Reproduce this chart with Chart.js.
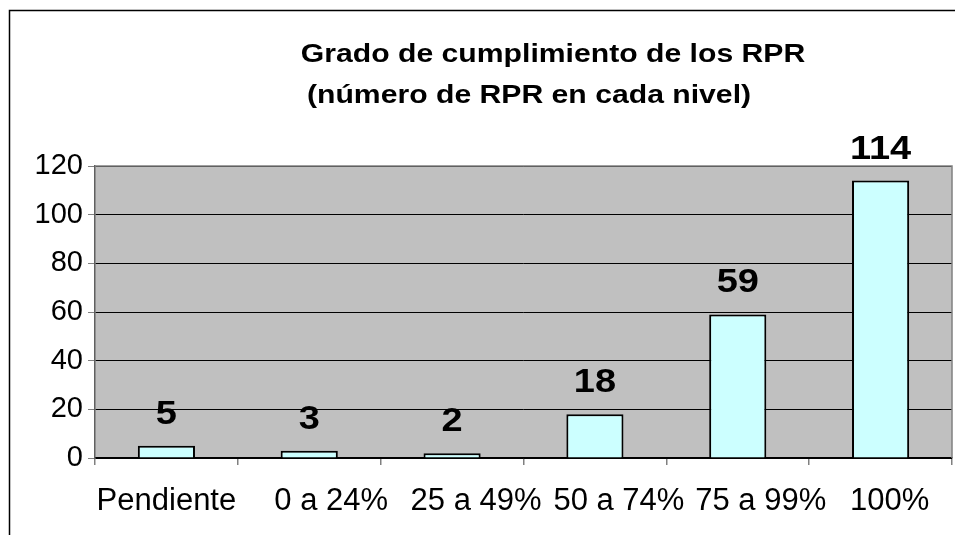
<!DOCTYPE html>
<html>
<head>
<meta charset="utf-8">
<script src="https://cdn.jsdelivr.net/npm/chart.js@4.4.1/dist/chart.umd.min.js"></script>
<style>
  html, body { margin: 0; padding: 0; background: #fff; }
  #wrap { width: 955px; height: 535px; position: relative; }
</style>
</head>
<body>
<div id="wrap"><canvas id="rprChart" width="955" height="535"></canvas></div>
<script>
// Chart data
const categories = ["Pendiente", "0 a 24%", "25 a 49%", "50 a 74%", "75 a 99%", "100%"];
const rprCounts = [5, 3, 2, 18, 59, 114];
const yTicks = [0, 20, 40, 60, 80, 100, 120];
const titleLines = ["Grado de cumplimiento de los RPR", "(número de RPR en cada nivel)"];

const FONT = "'Liberation Sans', Arial, sans-serif";

// the original spreads its category labels slightly to the right of the centre
const labelNudge = [0, 22, 24, 24, 23, 9];

// draw bold text a little wider, like the original rendering
function wideText(ctx, text, x, y, stretch) {
    ctx.save();
    ctx.translate(x, y);
    ctx.scale(stretch, 1);
    ctx.fillText(text, 0, 0);
    ctx.restore();
}

// Frame, gray plot background and plot border
const framePlugin = {
    id: "frame",
    beforeDraw(chart) {
        const { ctx, chartArea: a } = chart;
        ctx.save();
        ctx.fillStyle = "#ffffff";
        ctx.fillRect(0, 0, chart.width, chart.height);
        ctx.strokeStyle = "#000000";
        ctx.lineWidth = 1.5;
        ctx.beginPath();
        ctx.moveTo(9.5, chart.height);
        ctx.lineTo(9.5, 10.5);
        ctx.lineTo(chart.width, 10.5);
        ctx.stroke();
        ctx.fillStyle = "#c0c0c0";
        ctx.fillRect(a.left, a.top, a.right - a.left, a.bottom - a.top);
        ctx.restore();
    },
    afterDatasetsDraw(chart) {
        const { ctx, chartArea: a } = chart;
        ctx.save();
        ctx.strokeStyle = "#808080";
        ctx.lineWidth = 1.5;
        ctx.beginPath();
        ctx.moveTo(a.left, a.top);
        ctx.lineTo(a.right, a.top);
        ctx.lineTo(a.right, a.bottom);
        ctx.stroke();
        ctx.restore();
    }
};

// Title drawn in two lines, as in the original
const titlePlugin = {
    id: "twoLineTitle",
    afterDraw(chart) {
        const { ctx } = chart;
        ctx.save();
        ctx.fillStyle = "#000";
        ctx.font = "bold 26px " + FONT;
        ctx.textAlign = "center";
        ctx.textBaseline = "alphabetic";
        wideText(ctx, titleLines[0], 553, 62, 1.16);
        wideText(ctx, titleLines[1], 529, 103, 1.16);
        ctx.restore();
    }
};

// Category labels under the axis, placed from the x scale
const categoryLabels = {
    id: "categoryLabels",
    afterDraw(chart) {
        const { ctx } = chart;
        const xs = chart.scales.x;
        ctx.save();
        ctx.fillStyle = "#000";
        ctx.font = "31px " + FONT;
        ctx.textAlign = "center";
        ctx.textBaseline = "alphabetic";
        categories.forEach((c, i) => {
            ctx.fillText(c, xs.getPixelForValue(i) + labelNudge[i], 510);
        });
        ctx.restore();
    }
};

// Value labels above each bar
const valueLabels = {
    id: "valueLabels",
    afterDatasetsDraw(chart) {
        const { ctx } = chart;
        const meta = chart.getDatasetMeta(0);
        ctx.save();
        ctx.fillStyle = "#000";
        ctx.font = "bold 33px " + FONT;
        ctx.textAlign = "center";
        ctx.textBaseline = "alphabetic";
        meta.data.forEach((bar, i) => {
            wideText(ctx, String(rprCounts[i]), bar.x, bar.y - 22, 1.15);
        });
        ctx.restore();
    }
};

new Chart(document.getElementById("rprChart").getContext("2d"), {
    type: "bar",
    data: {
        labels: categories,
        datasets: [{
            data: rprCounts,
            backgroundColor: "#ccffff",
            borderColor: "#000000",
            borderWidth: 2,
            categoryPercentage: 1,
            barPercentage: 0.4
        }]
    },
    options: {
        responsive: false,
        animation: false,
        layout: { padding: { top: 166, right: 3, left: 0, bottom: 0 } },
        plugins: {
            legend: { display: false },
            title: { display: false },
            tooltip: { enabled: false }
        },
        scales: {
            x: {
                grid: {
                    offset: true,
                    drawOnChartArea: false,
                    color: "#808080",
                    tickLength: 7,
                    lineWidth: 1.5
                },
                border: { color: "#000000", width: 1.5 },
                ticks: {
                    color: "rgba(0,0,0,0)",
                    font: { family: FONT, size: 31 },
                    padding: 12,
                    maxRotation: 0,
                    autoSkip: false
                },
                afterFit(scale) { scale.height = 535 - 458; }
            },
            y: {
                min: 0,
                max: 120,
                afterBuildTicks(scale) {
                    scale.ticks = yTicks.map(v => ({ value: v }));
                },
                grid: {
                    color: "#000000",
                    lineWidth: 1,
                    tickLength: 7,
                    tickColor: "#808080"
                },
                border: { color: "#606060", width: 1.5 },
                ticks: {
                    color: "#000",
                    font: { family: FONT, size: 29 },
                    padding: 5
                },
                afterFit(scale) { scale.width = 95; }
            }
        }
    },
    plugins: [framePlugin, titlePlugin, categoryLabels, valueLabels]
});
</script>
</body>
</html>
